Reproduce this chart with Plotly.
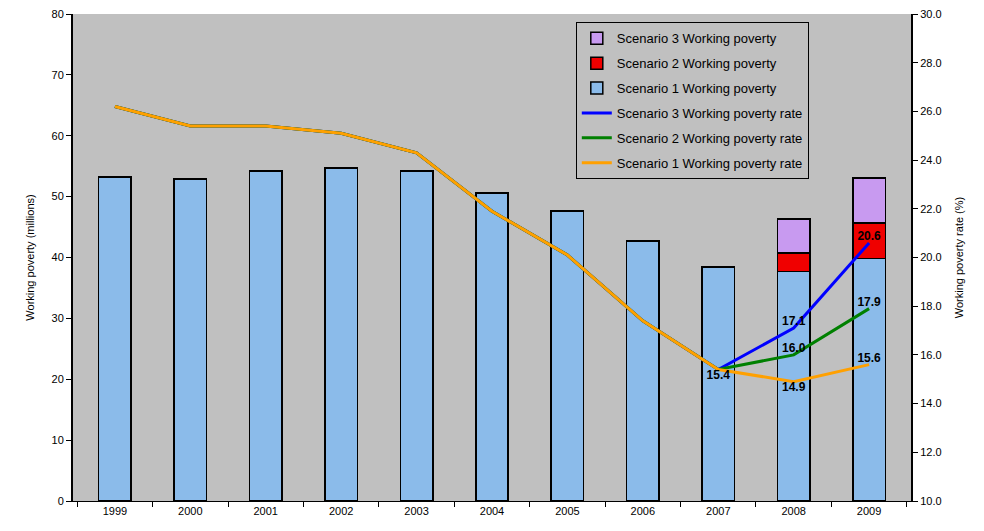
import plotly.graph_objects as go

years = ['1999', '2000', '2001', '2002', '2003', '2004', '2005', '2006', '2007', '2008', '2009']

# working poverty (millions)
s1_poverty = [53.2, 52.9, 54.2, 54.7, 54.2, 50.6, 47.6, 42.7, 38.4, 37.7, 39.8]
s2_extra = [None, None, None, None, None, None, None, None, None, 3.0, 5.9]
s3_extra = [None, None, None, None, None, None, None, None, None, 5.6, 7.4]

# working poverty rate (%)
s1_rate = [26.2, 25.4, 25.4, 25.1, 24.3, 21.9, 20.1, 17.4, 15.4, 14.9, 15.6]
s2_rate = [26.2, 25.4, 25.4, 25.1, 24.3, 21.9, 20.1, 17.4, 15.4, 16.0, 17.9]
s3_rate = [26.2, 25.4, 25.4, 25.1, 24.3, 21.9, 20.1, 17.4, 15.4, 17.1, 20.6]

s1_labels = [''] * 8 + ['15.4', '14.9', '15.6']
s2_labels = [''] * 9 + ['16.0', '17.9']
s3_labels = [''] * 9 + ['17.1', '20.6']

FONT = 'Liberation Sans, Arial, sans-serif'
edge = dict(color='black', width=1.5)
lbl_font = dict(family=FONT, size=12, color='black', weight='bold')

fig = go.Figure()

fig.add_trace(go.Bar(x=years, y=s1_poverty, name='Scenario 1 Working poverty',
                     marker=dict(color='#8BBBEA', line=edge), legendrank=3, legendgroup='b1'))
fig.add_trace(go.Bar(x=years, y=s2_extra, name='Scenario 2 Working poverty',
                     marker=dict(color='#F00000', line=edge), legendrank=2, legendgroup='b2'))
fig.add_trace(go.Bar(x=years, y=s3_extra, name='Scenario 3 Working poverty',
                     marker=dict(color='#C89AF0', line=edge), legendrank=1, legendgroup='b3'))

fig.add_trace(go.Scatter(x=years, y=s3_rate, name='Scenario 3 Working poverty rate',
                         mode='lines+text', text=s3_labels, textposition='top center',
                         textfont=lbl_font, line=dict(color='#0000FF', width=3),
                         yaxis='y2', legendrank=4, legendgroup='l3'))
fig.add_trace(go.Scatter(x=years, y=s2_rate, name='Scenario 2 Working poverty rate',
                         mode='lines+text', text=s2_labels, textposition='top center',
                         textfont=lbl_font, line=dict(color='#008000', width=3),
                         yaxis='y2', legendrank=5, legendgroup='l2'))
fig.add_trace(go.Scatter(x=years, y=s1_rate, name='Scenario 1 Working poverty rate',
                         mode='lines+text', text=s1_labels,
                         textposition=['top center'] * 8 + ['bottom center', 'bottom center', 'top center'],
                         textfont=lbl_font, line=dict(color='#FFA000', width=3),
                         yaxis='y2', legendrank=6, legendgroup='l1'))

fig.update_layout(
    width=984, height=531,
    margin=dict(l=65, r=81, t=6, b=38),
    paper_bgcolor='white',
    plot_bgcolor='#C0C0C0',
    barmode='stack',
    bargap=0.57,
    font=dict(family=FONT, size=11, color='black'),
    showlegend=True,
    legend=dict(x=0.6, y=0.983, xanchor='left', yanchor='top', traceorder='grouped',
                bgcolor='#C0C0C0', bordercolor='black', borderwidth=1,
                font=dict(size=13), tracegroupgap=5, itemwidth=30),
    xaxis=dict(showgrid=False, showline=True, linecolor='black', linewidth=1, automargin=False,
               ticks='outside', tickson='boundaries', ticklen=5, tickcolor='black'),
    yaxis=dict(title=dict(text='Working poverty (millions)', font=dict(size=11)),
               range=[0, 80], dtick=10, showgrid=False, zeroline=False, automargin=False,
               showline=True, linecolor='black', linewidth=2, ticklabeloverflow='allow',
               ticks='outside', ticklen=5, tickcolor='black'),
    yaxis2=dict(title=dict(text='Working poverty rate (%)', font=dict(size=11)),
                range=[10, 30], dtick=2, tickformat='.1f', overlaying='y', side='right',
                showgrid=False, zeroline=False, showline=True, linecolor='black', linewidth=2,
                automargin=False, ticklabeloverflow='allow', ticks='outside', ticklen=5,
                tickcolor='black'),
)

fig.write_html("out.html")
